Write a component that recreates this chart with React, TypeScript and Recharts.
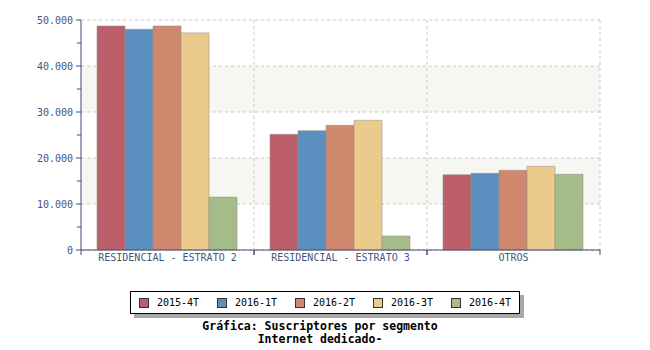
import React from 'react';
import { BarChart, Bar, XAxis, YAxis, CartesianGrid } from 'recharts';

const categories = ['RESIDENCIAL - ESTRATO 2', 'RESIDENCIAL - ESTRATO 3', 'OTROS'];
const periods = ['2015-4T', '2016-1T', '2016-2T', '2016-3T', '2016-4T'];
const colors = ['#bd5f6b', '#5b8fbf', '#cf876d', '#ebca8b', '#a3bc8a'];

const v2015_4 = [48700, 25150, 16370];
const v2016_1 = [48000, 25950, 16670];
const v2016_2 = [48700, 27100, 17320];
const v2016_3 = [47200, 28200, 18200];
const v2016_4 = [11500, 3050, 16450];

const seriesValues = [v2015_4, v2016_1, v2016_2, v2016_3, v2016_4];
const yTicks = [0, 5000, 10000, 15000, 20000, 25000, 30000, 35000, 40000, 45000, 50000];
const gridValues = [0, 10000, 20000, 30000, 40000, 50000];

const data = categories.map((name, i) => {
  const row: Record<string, string | number> = { name };
  periods.forEach((p, j) => {
    row[p] = seriesValues[j][i];
  });
  return row;
});

const W = 650;
const H = 350;
const margin = { top: 20, right: 50, bottom: 80, left: 0 };
const Y_W = 81;
const PLOT_W = W - margin.left - margin.right - Y_W;
const BAND = PLOT_W / categories.length;

const MONO = '"DejaVu Sans Mono", monospace';
const AXIS = '#3f4d75';
const LABEL = '#46557a';

const fmt = (v: number) => (v === 0 ? '0' : v.toLocaleString('de-DE'));

const YTick = (props: any) => {
  const { x, y, payload } = props;
  const major = payload.value % 10000 === 0;
  return (
    <g>
      <line x1={major ? x + 3 : x + 4} x2={x + 8} y1={y} y2={y} stroke={AXIS} />
      {major && (
        <text x={x} y={y} textAnchor="end" dominantBaseline="central" fontSize={10} fontFamily={MONO} fill={LABEL}>
          {fmt(payload.value)}
        </text>
      )}
    </g>
  );
};

const XTick = (props: any) => {
  const { x, y, payload } = props;
  return (
    <g>
      <line x1={x - BAND / 2} x2={x - BAND / 2} y1={y} y2={y + 5} stroke={AXIS} />
      <line x1={x + BAND / 2} x2={x + BAND / 2} y1={y} y2={y + 5} stroke={AXIS} />
      <text x={x} y={y + 7} textAnchor="middle" dominantBaseline="central" fontSize={10} fontFamily={MONO} fill={LABEL}>
        {payload.value}
      </text>
    </g>
  );
};

export default function App() {
  return (
    <div style={{ position: 'absolute', left: 0, top: 0, width: W, height: H, background: '#fff' }}>
      <BarChart width={W} height={H} data={data} margin={margin} barGap={0} barCategoryGap={16}>
        <CartesianGrid
          stroke="#c8c8c8"
          strokeDasharray="3 3"
          horizontalValues={gridValues}
          horizontalFill={['#ffffff', '#f6f6f2']}
          verticalCoordinatesGenerator={({ offset }: any) =>
            categories.map((_, i) => offset.left + (offset.width * (i + 1)) / categories.length)
          }
        />
        <XAxis
          dataKey="name"
          height={20}
          tickSize={0}
          tickMargin={0}
          tickLine={false}
          stroke={AXIS}
          tick={<XTick />}
          interval={0}
        />
        <YAxis
          width={Y_W}
          domain={[0, 50000]}
          ticks={yTicks}
          interval={0}
          tickSize={5}
          tickMargin={3}
          tickLine={false}
          stroke={AXIS}
          tick={<YTick />}
        />
        {periods.map((p, j) => (
          <Bar
            key={p}
            dataKey={p}
            fill={colors[j]}
            stroke="#9c9084"
            strokeOpacity={0.55}
            isAnimationActive={false}
          />
        ))}
      </BarChart>
      <div
        style={{
          position: 'absolute',
          left: 130,
          top: 291,
          width: 380,
          height: 21,
          border: '1px solid #000',
          background: '#fff',
          boxShadow: '4px 4px 0 #a8a8a8',
          display: 'flex',
          alignItems: 'center',
          paddingLeft: 8,
          boxSizing: 'content-box',
          overflow: 'visible',
          fontFamily: MONO,
          fontSize: 10,
          color: '#000',
        }}
      >
        {periods.map((p, j) => (
          <div key={p} style={{ display: 'flex', alignItems: 'center', flex: '0 0 78px' }}>
            <span
              style={{
                display: 'inline-block',
                width: 8,
                height: 8,
                background: colors[j],
                border: '1px solid #333',
                marginRight: 8,
              }}
            />
            <span>{p}</span>
          </div>
        ))}
      </div>
      <div
        style={{
          position: 'absolute',
          left: 0,
          width: 640,
          top: 320,
          textAlign: 'center',
          fontFamily: MONO,
          fontWeight: 'bold',
          fontSize: 11.5,
          lineHeight: '13px',
          color: '#000',
        }}
      >
        <div>Gráfica: Suscriptores por segmento</div>
        <div>Internet dedicado-</div>
      </div>
    </div>
  );
}
